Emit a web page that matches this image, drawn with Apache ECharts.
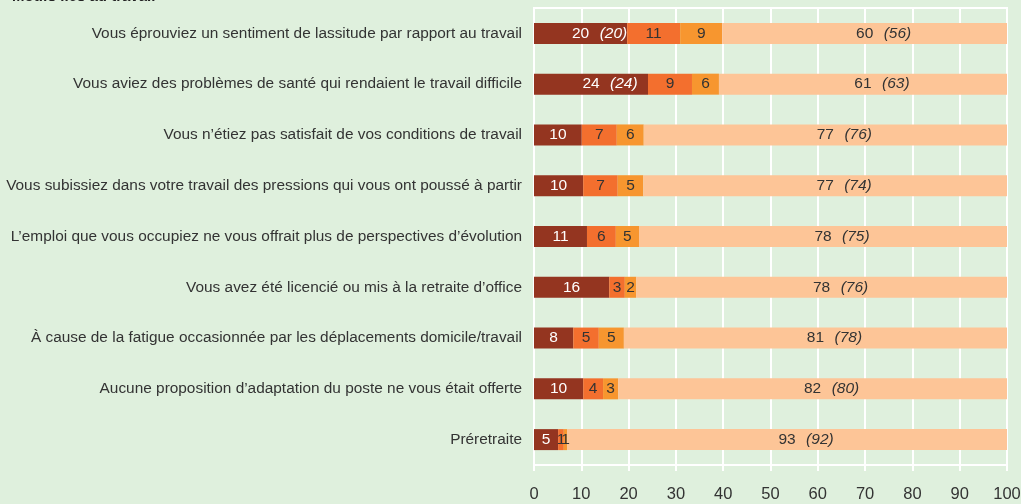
<!DOCTYPE html>
<html>
<head>
<meta charset="utf-8">
<script src="https://cdn.jsdelivr.net/npm/echarts@6/dist/echarts.min.js"></script>
<style>
html,body{margin:0;padding:0;background:#DFF0DD;}
#c{width:1021px;height:504px;}
</style>
</head>
<body>
<div id="c"></div>
<script>
const categories = [
  "Vous éprouviez un sentiment de lassitude par rapport au travail",
  "Vous aviez des problèmes de santé qui rendaient le travail difficile",
  "Vous n’étiez pas satisfait de vos conditions de travail",
  "Vous subissiez dans votre travail des pressions qui vous ont poussé à partir",
  "L’emploi que vous occupiez ne vous offrait plus de perspectives d’évolution",
  "Vous avez été licencié ou mis à la retraite d’office",
  "À cause de la fatigue occasionnée par les déplacements domicile/travail",
  "Aucune proposition d’adaptation du poste ne vous était offerte",
  "Préretraite"
];
const seriesDark   = [19.7, 24.1, 10.1, 10.4, 11.2, 15.9, 8.3, 10.4, 5.1];
const seriesOrange = [11.2,  9.3,  7.4,  7.3,  6.1,  3.3, 5.4,  4.2, 1.2];
const seriesAmber  = [ 8.9,  5.7,  5.7,  5.4,  4.9,  2.4, 5.3,  3.2, 0.7];
const seriesLight  = [60.2, 60.9, 76.8, 76.9, 77.8, 78.4, 81.0, 82.2, 93.0];
const darkParen  = [20, 24, null, null, null, null, null, null, null];
const lightParen = [56, 63, 76, 74, 75, 76, 78, 80, 92];
const xTicks = [0, 10, 20, 30, 40, 50, 60, 70, 80, 90, 100];

const FONT = "'Liberation Sans Narrow', 'Arial Narrow', 'Liberation Sans', Arial, sans-serif";
const colors = ['#943520', '#F36F2E', '#F7962F', '#FDC597'];
const LS = 15.5;

function parenLabel(parens, color) {
  return {
    show: true,
    position: 'inside',
    fontFamily: FONT,
    fontSize: LS,
    color: color,
    formatter: function (p) {
      const n = Math.round(p.value);
      const par = parens[p.dataIndex];
      if (par == null) return '{n|' + n + '}';
      return '{pad| }{n|' + n + '}{p|(' + par + ')}';
    },
    rich: {
      n: {fontFamily: FONT, fontSize: LS, color: color},
      pad: {width: 38, fontSize: LS},
      p: {fontFamily: FONT, fontSize: LS, fontStyle: 'italic', color: color, width: 38, align: 'right'}
    }
  };
}
function simpleLabel(color) {
  return {
    show: true, position: 'inside', fontFamily: FONT, fontSize: LS, color: color,
    formatter: p => String(Math.round(p.value))
  };
}

const chart = echarts.init(document.getElementById('c'));
chart.setOption({
  backgroundColor: '#DFF0DD',
  animation: false,
  textStyle: {fontFamily: FONT},
  graphic: [{
    type: 'text', x: 12, y: -11, z: 100,
    style: {text: 'Motifs liés au travail', fontFamily: FONT, fontSize: 15, fontWeight: 'bold', fill: '#222'}
  }],
  grid: {left: 534, right: 14, top: 8, bottom: 39, containLabel: false, outerBoundsMode: 'none',
    show: true, borderColor: '#ffffff', borderWidth: 2, backgroundColor: 'transparent'},
  xAxis: {
    type: 'value', min: 0, max: 100, interval: 10,
    axisLine: {show: true, lineStyle: {color: '#ffffff', width: 2}},
    axisTick: {show: true, length: 6, lineStyle: {color: '#ffffff', width: 2}},
    splitLine: {show: true, lineStyle: {color: '#ffffff', width: 2}},
    axisLabel: {color: '#333', fontFamily: FONT, fontSize: 16.5, margin: 21,
      formatter: v => xTicks.indexOf(v) >= 0 ? String(v) : ''}
  },
  yAxis: {
    type: 'category', data: categories, inverse: true,
    axisLine: {show: false}, axisTick: {show: false},
    axisLabel: {color: '#333', fontFamily: FONT, fontSize: 15.4, margin: 12}
  },
  series: [
    {type: 'bar', stack: 's', barWidth: 21, data: seriesDark, itemStyle: {color: colors[0]}, label: parenLabel(darkParen, '#ffffff')},
    {type: 'bar', stack: 's', barWidth: 21, data: seriesOrange, itemStyle: {color: colors[1]}, label: simpleLabel('#333')},
    {type: 'bar', stack: 's', barWidth: 21, data: seriesAmber, itemStyle: {color: colors[2]}, label: simpleLabel('#333')},
    {type: 'bar', stack: 's', barWidth: 21, data: seriesLight, itemStyle: {color: colors[3]}, label: parenLabel(lightParen, '#333')}
  ]
});
</script>
</body>
</html>
